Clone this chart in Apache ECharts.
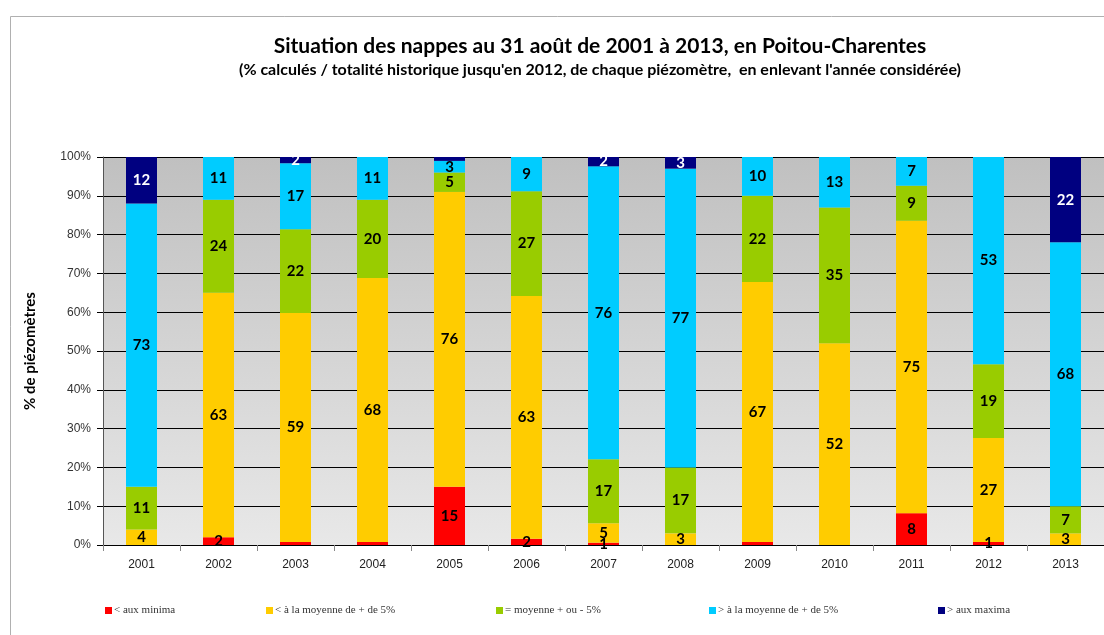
<!DOCTYPE html>
<html>
<head>
<meta charset="utf-8">
<script src="https://cdn.jsdelivr.net/npm/echarts@6/dist/echarts.min.js"></script>
<style>
html, body { margin: 0; padding: 0; background: #fff; }
#main { width: 1104px; height: 635px; }
</style>
</head>
<body>
<div id="main"></div>
<script>
// années
var years = ['2001', '2002', '2003', '2004', '2005', '2006', '2007', '2008', '2009', '2010', '2011', '2012', '2013'];

// % de piézomètres par classe
var auxMinima    = [0, 2, 0.8, 0.8, 15, 1.6, 0.6, 0, 0.8, 0, 8.2, 0.8, 0];
var sousMoyenne  = [4, 63, 59, 68, 76, 62.6, 5, 3, 67, 52, 75.4, 26.8, 3];
var moyenne      = [11, 24, 21.6, 20.2, 5, 27, 16.5, 17, 22.2, 35, 9, 19, 7];
var surMoyenne   = [73, 11, 17, 11, 3, 8.8, 75.5, 77, 10, 13, 7.4, 53.4, 68];
var auxMaxima    = [12, 0, 1.6, 0, 1, 0, 2.4, 3, 0, 0, 0, 0, 22];

// étiquettes masquées sur le graphique d'origine [série, année]
var hiddenLabels = [[0, 2], [0, 3], [0, 8], [4, 4]];

var seriesNames = ['< aux minima', '< à la moyenne de + de 5%', '= moyenne + ou - 5%', '> à la moyenne de + de 5%', '> aux maxima'];
var seriesData = [auxMinima, sousMoyenne, moyenne, surMoyenne, auxMaxima];
var seriesColors = ['#ff0000', '#ffcc00', '#99cc00', '#00ccff', '#000080'];
var labelColors = ['#000', '#000', '#000', '#000', '#fff'];
// position de chaque entrée de légende
var legendLeft = [100, 261, 491, 704, 933];

var chart = echarts.init(document.getElementById('main'));

function isHidden(s, i) {
    for (var k = 0; k < hiddenLabels.length; k++) {
        if (hiddenLabels[k][0] == s && hiddenLabels[k][1] == i) return true;
    }
    return false;
}

var series = seriesData.map(function (arr, s) {
    return {
        name: seriesNames[s],
        type: 'bar',
        stack: 'total',
        barWidth: 31,
        itemStyle: { color: seriesColors[s] },
        label: {
            show: true,
            position: 'inside',
            color: labelColors[s],
            fontFamily: 'Lato',
            fontWeight: 'bold',
            fontSize: 15,
            formatter: function (p) { return Math.round(p.value); }
        },
        data: arr.map(function (v, i) {
            if (v == 0) return { value: v, label: { show: false } };
            if (isHidden(s, i)) return { value: v, label: { show: false } };
            return v;
        })
    };
});

var legends = seriesNames.map(function (n, s) {
    return {
        data: [n],
        top: 600,
        left: legendLeft[s],
        itemWidth: 7,
        itemHeight: 7,
        itemGap: 2,
        icon: 'rect',
        textStyle: { fontFamily: 'Liberation Serif', fontSize: 11, color: '#333', padding: [0, 0, 0, -3] }
    };
});

var option = {
    animation: false,
    backgroundColor: '#fff',
    title: {
        text: 'Situation des nappes au 31 août de 2001 à 2013, en Poitou-Charentes',
        subtext: "(% calculés / totalité historique jusqu'en 2012, de chaque piézomètre,  en enlevant l'année considérée)",
        left: 595,
        textAlign: 'center',
        top: 31,
        itemGap: 5,
        textStyle: { fontFamily: 'Lato', fontWeight: 'bold', fontSize: 21, color: '#000' },
        subtextStyle: { fontFamily: 'Lato', fontWeight: 'bold', fontSize: 16, color: '#000' }
    },
    legend: legends,
    grid: {
        left: 103,
        width: 1005,
        top: 157,
        height: 388,
        show: true,
        borderWidth: 0,
        backgroundColor: new echarts.graphic.LinearGradient(0, 0, 0, 1, [
            { offset: 0, color: '#c0c0c0' },
            { offset: 1, color: '#e8e8e8' }
        ])
    },
    xAxis: {
        type: 'category',
        data: years,
        axisLine: { lineStyle: { color: '#000', width: 1 } },
        axisTick: { show: true, length: 6, lineStyle: { color: '#888' } },
        axisLabel: { color: '#222', fontFamily: 'Liberation Sans', fontSize: 12, margin: 14 }
    },
    yAxis: {
        type: 'value',
        min: 0,
        max: 100,
        interval: 10,
        name: '% de piézomètres',
        nameLocation: 'middle',
        nameGap: 65,
        nameTextStyle: { fontFamily: 'Lato', fontWeight: 'bold', fontSize: 15, color: '#000' },
        axisLine: { show: true, lineStyle: { color: '#555' } },
        axisTick: { show: true, length: 6, lineStyle: { color: '#000' } },
        splitLine: { show: true, lineStyle: { color: '#000', width: 1 } },
        axisLabel: {
            color: '#333',
            fontFamily: 'Liberation Sans',
            fontSize: 12,
            margin: 12,
            formatter: '{value}%'
        }
    },
    graphic: [{
        type: 'rect',
        left: 8,
        top: 14,
        shape: { width: 1110, height: 640 },
        style: { fill: 'none', stroke: '#b0b0b0', lineWidth: 1 },
        silent: true,
        z: -1
    }],
    series: series
};

chart.setOption(option);
</script>
</body>
</html>
